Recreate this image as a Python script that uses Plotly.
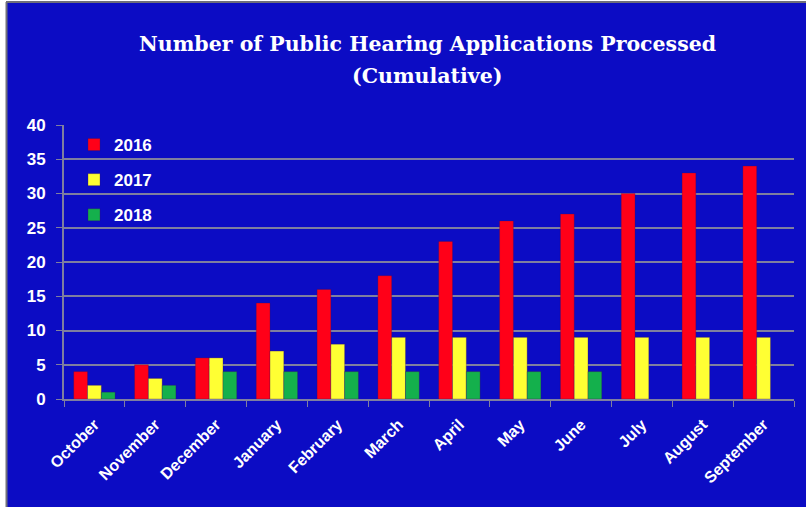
import plotly.graph_objects as go

months = ["October", "November", "December", "January", "February", "March",
          "April", "May", "June", "July", "August", "September"]
v2016 = [4, 5, 6, 14, 16, 18, 23, 26, 27, 30, 33, 34]
v2017 = [2, 3, 6, 7, 8, 9, 9, 9, 9, 9, 9, 9]
v2018 = [1, 2, 4, 4, 4, 4, 4, 4, 4, None, None, None]
series = [("2016", v2016, "#FF0018"), ("2017", v2017, "#FFFF33"), ("2018", v2018, "#14B04C")]
title_lines = ["Number of Public Hearing Applications Processed", "(Cumulative)"]

BG = "#0C0CC4"
GRID = "#7F7F9F"

fig = go.Figure()
for name, vals, col in series:
    fig.add_trace(go.Bar(x=months, y=vals, name=name, legendgroup=name,
                         marker=dict(color=col, line=dict(color="rgba(60,20,80,0.5)", width=0.6))))

W, H = 806, 507
L, R, T, B = 64, 12, 125, 108
pw, ph = W - L - R, H - T - B

def px(x):
    return (x - L) / pw

def py(y):
    return (H - B - y) / ph

shapes = [
    dict(type="rect", xref="paper", yref="paper", x0=px(-2), x1=px(6), y0=py(510), y1=py(-2),
         fillcolor="white", line=dict(width=0), layer="above"),
    dict(type="rect", xref="paper", yref="paper", x0=px(-2), x1=px(810), y0=py(1.5), y1=py(-2),
         fillcolor="white", line=dict(width=0), layer="above"),
    dict(type="line", xref="paper", yref="paper", x0=px(6.5), x1=px(6.5), y0=py(510), y1=py(2),
         line=dict(color="#70707A", width=2), layer="above"),
    dict(type="line", xref="paper", yref="paper", x0=px(6), x1=px(810), y0=py(2), y1=py(2),
         line=dict(color="#70707A", width=2), layer="above"),
]

tfont = dict(family="DejaVu Serif", size=20.5, color="white", weight="bold")
annotations = [
    dict(text=title_lines[0], xref="paper", yref="paper", x=px(427), y=py(44),
         xanchor="center", yanchor="middle", showarrow=False, font=tfont),
    dict(text=title_lines[1], xref="paper", yref="paper", x=px(427), y=py(76),
         xanchor="center", yanchor="middle", showarrow=False, font=tfont),
]

fig.update_layout(
    width=W, height=H,
    margin=dict(l=L, r=R, t=T, b=B, autoexpand=False),
    paper_bgcolor=BG, plot_bgcolor=BG,
    barmode="group", bargap=0.32, bargroupgap=0,
    legend=dict(x=px(74), y=py(127), xanchor="left", yanchor="top", bgcolor="rgba(0,0,0,0)",
                font=dict(family="Liberation Sans", size=17, color="white", weight="bold"),
                tracegroupgap=10, traceorder="grouped", itemwidth=30),
    xaxis=dict(type="category", tickson="boundaries", ticks="outside", ticklen=6,
               tickcolor=GRID, showline=True, linecolor=GRID, linewidth=2,
               tickangle=-45, showgrid=False, ticklabelstandoff=8, automargin=False,
               tickfont=dict(family="Liberation Sans", size=16, color="white", weight="bold")),
    yaxis=dict(range=[0, 40], dtick=5, showgrid=True, gridcolor=GRID, gridwidth=1.5,
               ticks="outside", ticklen=6, tickcolor=GRID, showline=True, linecolor=GRID,
               linewidth=2, zeroline=False, automargin=False, ticklabelstandoff=7,
               tickfont=dict(family="Liberation Sans", size=17, color="white", weight="bold")),
    shapes=shapes,
    annotations=annotations,
)

fig.write_html("out.html", config={"displayModeBar": False},
               post_script="document.body.style.margin='0';document.body.style.overflow='hidden';")
